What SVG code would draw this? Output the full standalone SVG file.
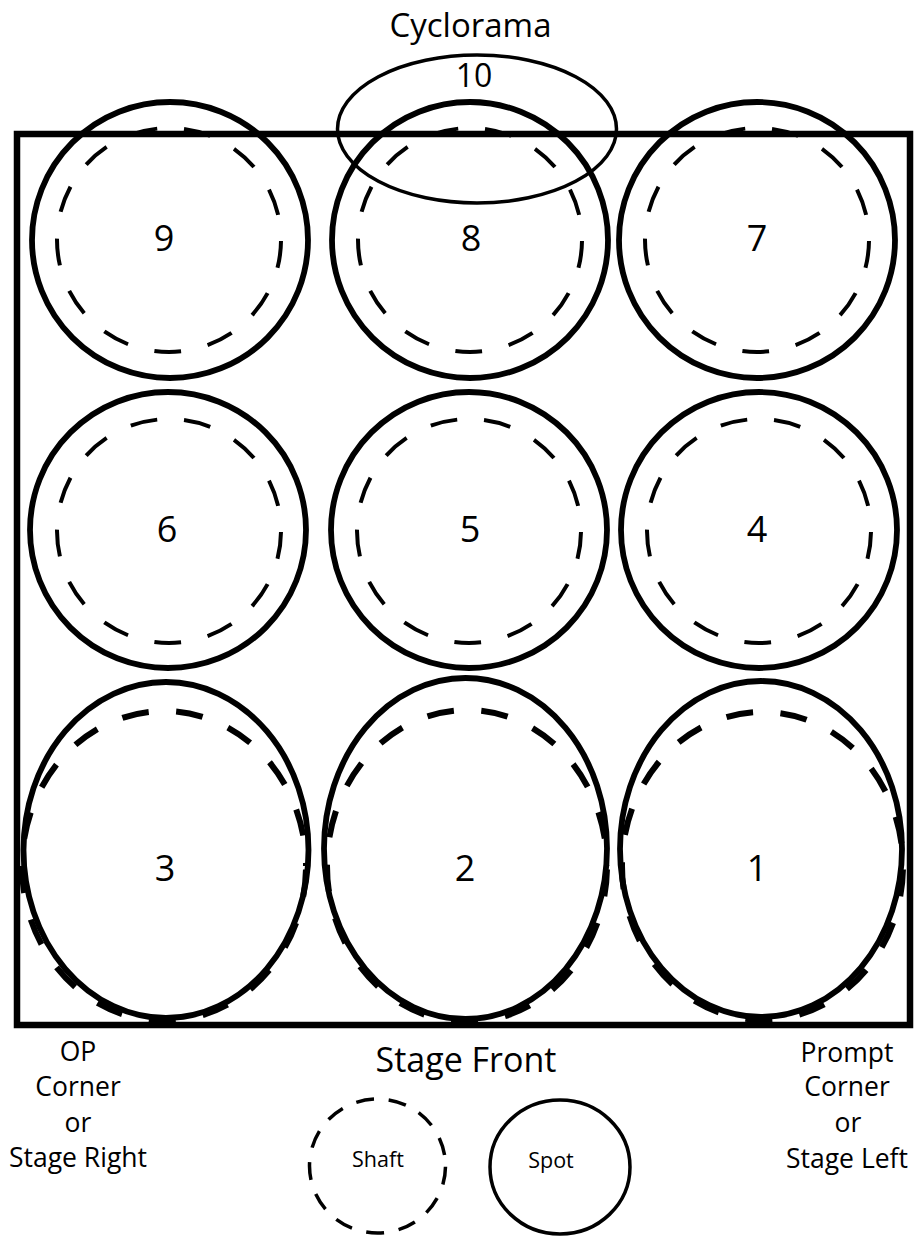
<svg xmlns="http://www.w3.org/2000/svg" width="914" height="1236" viewBox="0 0 914 1236">
<style>
  .lbl { font-family: "Open Sans", "Liberation Sans", sans-serif; fill: #000; text-anchor: middle; }
  .num { font-size: 36px; }
  .side { font-size: 26.5px; }
  .spot { fill: none; stroke: #000; stroke-width: 5.8; }
  .shaft { fill: none; stroke: #000; stroke-width: 4; stroke-dasharray: 27 27.13; stroke-dashoffset: 53; }
  .shaftB { fill: none; stroke: #000; stroke-width: 6; stroke-dasharray: 27 27.5; stroke-dashoffset: 51; }
  .thin { fill: none; stroke: #000; stroke-width: 3.5; }
</style>
<rect width="914" height="1236" fill="#fff"/>
<g id="stage">
  <rect x="17" y="134" width="893" height="891" fill="none" stroke="#000" stroke-width="6.5"/>
</g>
<g id="area-9">
  <circle class="spot" cx="170" cy="240" r="138"/>
  <circle class="shaft" cx="169" cy="240" r="112"/>
  <text class="lbl num" x="164" y="251">9</text>
</g>
<g id="area-8">
  <circle class="spot" cx="470" cy="240" r="138"/>
  <circle class="shaft" cx="470" cy="240" r="112"/>
  <text class="lbl num" x="471" y="251">8</text>
</g>
<g id="area-7">
  <circle class="spot" cx="757" cy="240" r="138"/>
  <circle class="shaft" cx="757" cy="240" r="112"/>
  <text class="lbl num" x="757" y="251">7</text>
</g>
<g id="area-6">
  <circle class="spot" cx="168" cy="530" r="138"/>
  <circle class="shaft" cx="169" cy="531" r="112"/>
  <text class="lbl num" x="167" y="542">6</text>
</g>
<g id="area-5">
  <circle class="spot" cx="469" cy="530" r="138"/>
  <circle class="shaft" cx="469" cy="531" r="112"/>
  <text class="lbl num" x="470" y="542">5</text>
</g>
<g id="area-4">
  <circle class="spot" cx="759" cy="530" r="138"/>
  <circle class="shaft" cx="759" cy="531" r="112"/>
  <text class="lbl num" x="757" y="542">4</text>
</g>
<g id="area-3">
  <ellipse class="spot" cx="166" cy="850" rx="142.5" ry="168"/>
  <ellipse class="shaftB" cx="164" cy="866" rx="142" ry="155"/>
  <text class="lbl num" x="165" y="881">3</text>
</g>
<g id="area-2">
  <ellipse class="spot" cx="465.5" cy="848.5" rx="141.5" ry="170.5"/>
  <ellipse class="shaftB" cx="467" cy="866" rx="140" ry="156"/>
  <text class="lbl num" x="465" y="881">2</text>
</g>
<g id="area-1">
  <ellipse class="spot" cx="761" cy="849" rx="141" ry="168"/>
  <ellipse class="shaftB" cx="762.5" cy="866" rx="140.5" ry="154"/>
  <text class="lbl num" x="757" y="881">1</text>
</g>
<g id="area-10">
  <ellipse class="thin" cx="477" cy="129" rx="139.5" ry="74"/>
  <text class="lbl" style="font-size:32px" x="474" y="87">10</text>
</g>
<g id="title">
  <text class="lbl" style="font-size:33px" x="470.5" y="37">Cyclorama</text>
</g>
<g id="stage-front">
  <text class="lbl" style="font-size:34px" x="466" y="1072">Stage Front</text>
</g>
<g id="op-corner">
  <text class="lbl side" x="78" y="1061">OP</text>
  <text class="lbl side" x="78" y="1096">Corner</text>
  <text class="lbl side" x="78" y="1132">or</text>
  <text class="lbl side" x="78" y="1167">Stage Right</text>
</g>
<g id="prompt-corner">
  <text class="lbl side" x="847" y="1062">Prompt</text>
  <text class="lbl side" x="847" y="1096">Corner</text>
  <text class="lbl side" x="848" y="1132">or</text>
  <text class="lbl side" x="847" y="1168">Stage Left</text>
</g>
<g id="legend-shaft">
  <ellipse cx="377.5" cy="1166" rx="68" ry="67" fill="none" stroke="#000" stroke-width="3.5" stroke-dasharray="18 14.8" stroke-dashoffset="32"/>
  <text class="lbl" style="font-size:21.5px" x="378" y="1167">Shaft</text>
</g>
<g id="legend-spot">
  <ellipse cx="560" cy="1167" rx="70" ry="67" fill="none" stroke="#000" stroke-width="3.5"/>
  <text class="lbl" style="font-size:21.5px" x="551" y="1168">Spot</text>
</g>
<g id="connectors"></g>
</svg>
